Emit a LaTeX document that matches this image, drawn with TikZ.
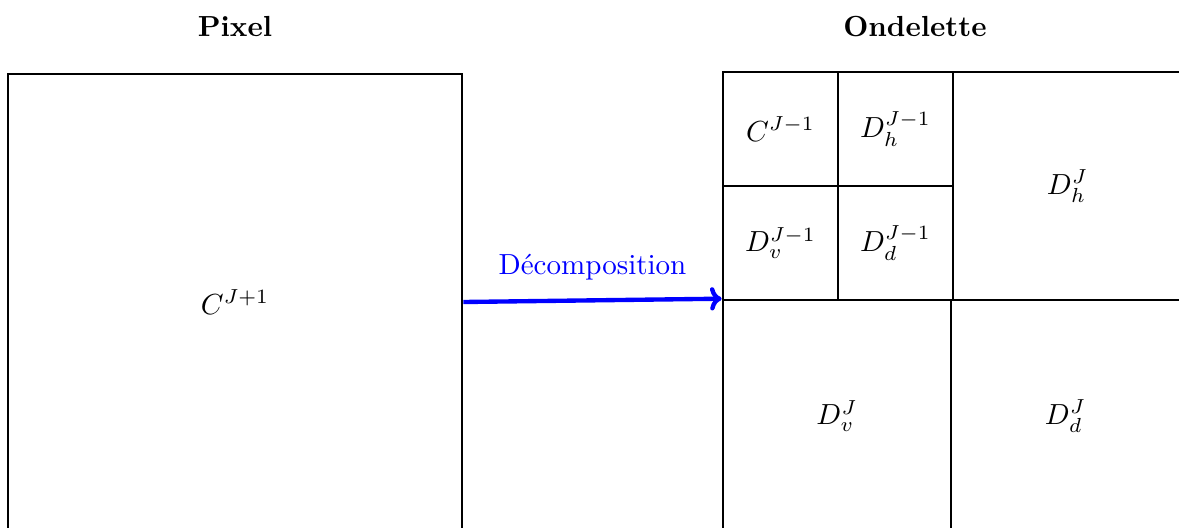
\documentclass[tikz,border=0pt]{standalone}
\usetikzlibrary{arrows.meta}
\begin{document}
\begin{tikzpicture}[x=0.0121cm,y=-0.0121cm,
  box/.style 2 args={draw=black,line width=0.9pt,inner sep=0pt,
    minimum width={#1*0.0121cm},minimum height={#2*0.0121cm}},
  small/.style={box={115}{114}},
  title/.style={font=\bfseries},
  flow/.style={draw=blue,line width=1.5pt,-{To[length=4pt,width=8pt]}}]
\path[use as bounding box,clip] (0,0) rectangle (1179,527);
\node[title] (tp) at (235,27) {Pixel};
\node[title] (to) at (915,27) {Ondelette};
\node[box={454}{456}] (pix) at (235,302) {$C^{J+1}$};
\node[small] (ca) at (780.5,129) {$C^{J-1}$};
\node[small] (dh1) at (895.5,129) {$D_h^{J-1}$};
\node[small] (dv1) at (780.5,243) {$D_v^{J-1}$};
\node[small] (dd1) at (895.5,243) {$D_d^{J-1}$};
\node[box={229}{228}] (dh) at (1067.5,186) {$D_h^{J}$};
\node[box={228}{232}] (dv) at (837,416) {$D_v^{J}$};
\node[box={229}{232}] (dd) at (1065.5,416) {$D_d^{J}$};
\draw[flow] (pix.east) -- node[above=3pt,text=blue] {D\'ecomposition} (dv.north west);
\end{tikzpicture}
\end{document}
